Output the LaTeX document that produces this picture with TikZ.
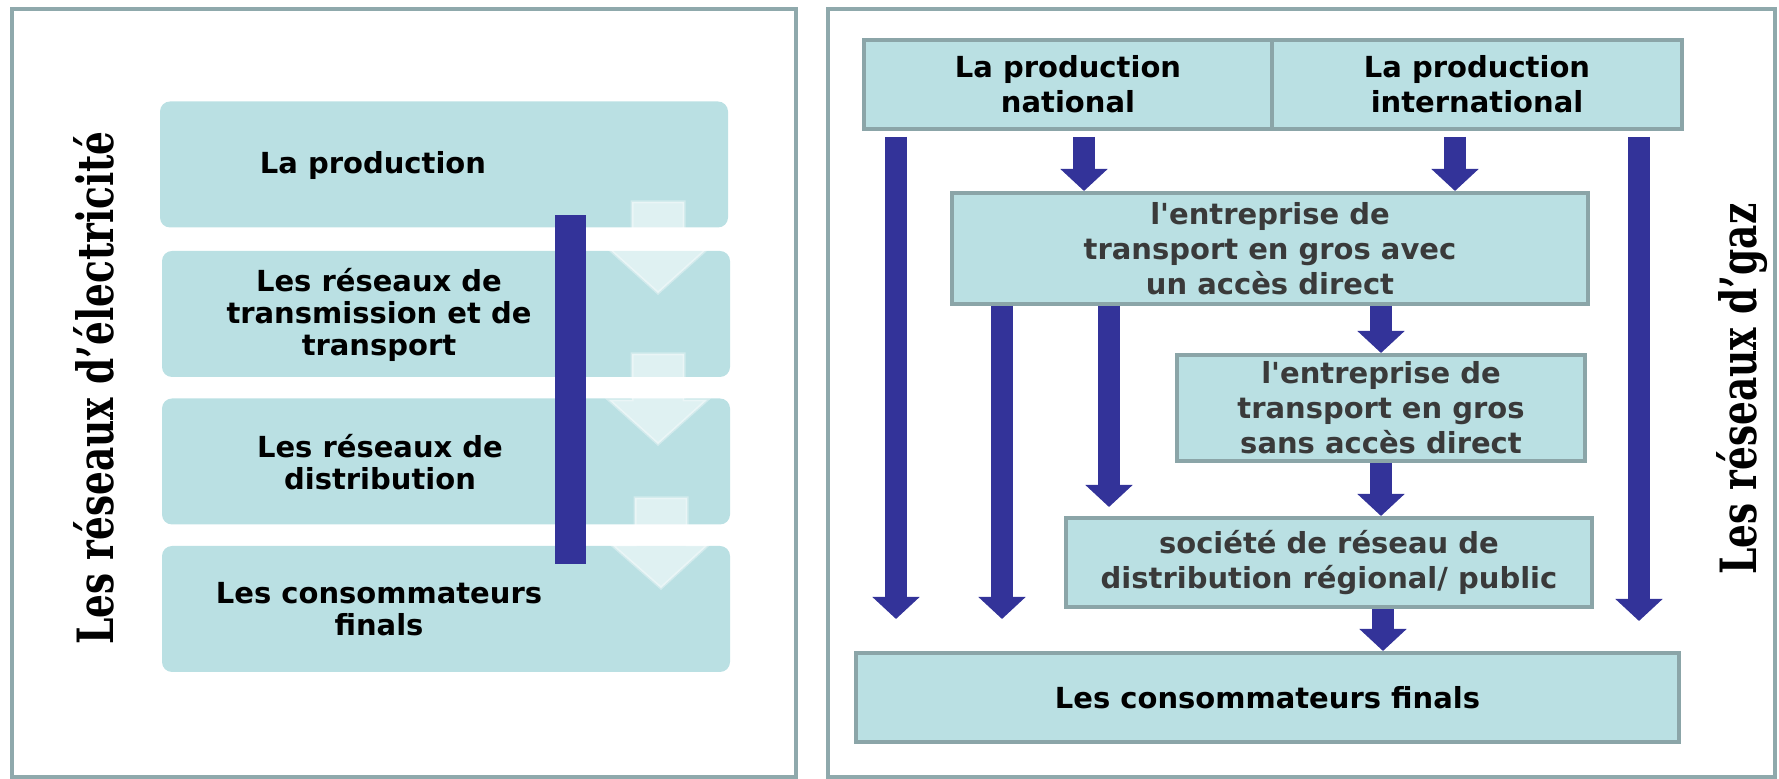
\documentclass[tikz,border=0pt]{standalone}
\usepackage{fontspec}
\setmainfont{DejaVu Sans}[Ligatures=TeXOff]
\newfontfamily\titlefont{DejaVu Serif}
\usetikzlibrary{arrows.meta,calc}
\definecolor{boxfill}{RGB}{186,224,227}
\definecolor{boxline}{RGB}{139,165,168}
\definecolor{panelline}{RGB}{143,169,172}
\definecolor{navy}{RGB}{51,51,153}
\definecolor{darktext}{RGB}{58,58,58}
\tikzset{
  panel/.style={draw=panelline,line width=2pt},
  lbox/.style={fill=boxfill,rounded corners=5pt,minimum width=284pt,minimum height=63pt,inner sep=0pt},
  ltext/.style={font=\bfseries\fontsize{14.5}{16}\selectfont,align=center,inner sep=0pt},
  rbox/.style={draw=boxline,fill=boxfill,line width=2pt,inner sep=0pt},
  rtext/.style={font=\bfseries\fontsize{14.5}{17.5}\selectfont,align=center},
  fat/.style={draw=navy,line width=11pt,-{Triangle[length=11pt,width=23pt]}},
  lightarrow/.style={fill=white,fill opacity=0.55,draw=white,draw opacity=0.35,line width=1.5pt},
  title/.style={font=\titlefont\bfseries\fontsize{25}{30}\selectfont,rotate=90,inner sep=0pt}
}
\begin{document}
\begin{tikzpicture}[x=0.5pt,y=-0.5pt]
\useasboundingbox (0,0) rectangle (1779,779);
% panels
\draw[panel] (12,9) rectangle (796,777);
\draw[panel] (828,9) rectangle (1775,777);
% ---------- left panel ----------
\node[title] (tl) at (94,388) {\scalebox{0.75}[1]{Les réseaux d’électricité}};
\node[lbox] (b1) at (444,164.5) {};
\node[lbox] (b2) at (446,314) {};
\node[lbox] (b3) at (446,461.5) {};
\node[lbox] (b4) at (446,609) {};
\node[ltext] (t1) at (373,166) {La production};
\node[ltext] (t2) at (379,315) {Les réseaux de\\transmission et de\\transport};
\node[ltext] (t3) at (380,462) {Les réseaux de\\distribution};
\node[ltext] (t4) at (379,609) {Les consommateurs\\finals};
\node[fill=navy,minimum width=15.5pt,minimum height=174.5pt,inner sep=0pt] (bar) at (570.5,389.5) {};
\draw[lightarrow] (632,202) -- (684,202) -- (684,249) -- (707,249) -- (658,293) -- (609,249) -- (632,249) -- cycle;
\draw[lightarrow] (632,354) -- (684,354) -- (684,400) -- (707,400) -- (658,444) -- (609,400) -- (632,400) -- cycle;
\draw[lightarrow] (635,498) -- (687,498) -- (687,545) -- (708,545) -- (661,588) -- (612,545) -- (635,545) -- cycle;
% ---------- right panel ----------
\node[title] (tr) at (1742,389) {\scalebox{0.75}[1]{Les réseaux d’gaz}};
\node[rbox,minimum width=204pt,minimum height=44.5pt] (nat) at (1068,84.5) {};
\node[rbox,minimum width=205pt,minimum height=44.5pt] (int) at (1477,84.5) {};
\node[rbox,minimum width=318pt,minimum height=55.5pt] (ent) at (1270,248.5) {};
\node[rbox,minimum width=204pt,minimum height=53pt] (sans) at (1381,408) {};
\node[rbox,minimum width=263pt,minimum height=44.5pt] (soc) at (1329,562.5) {};
\node[rbox,minimum width=411.5pt,minimum height=44.5pt] (cons) at (1267.5,697.5) {};
% free ends
\coordinate (s1) at (896,137);  \coordinate (e1) at (896,619);
\coordinate (s4) at (1639,137); \coordinate (e4) at (1639,621);
\coordinate (e5) at (1002,619);
\coordinate (e6) at (1109,507);
% arrows
\draw[fat] (s1) -- (e1);
\draw[fat] (s4) -- (e4);
\draw[fat] (1084,137) -- (1084,0 |- ent.north);
\draw[fat] (1455,137) -- (1455,0 |- ent.north);
\draw[fat] (1002,0 |- ent.south) -- (e5);
\draw[fat] (1109,0 |- ent.south) -- (e6);
\draw[fat] (1381,0 |- ent.south) -- (1381,0 |- sans.north);
\draw[fat] (1381,0 |- sans.south) -- (1381,0 |- soc.north);
\draw[fat] (1383,0 |- soc.south) -- (1383,0 |- cons.north);
% texts
\node[rtext] at (nat) {La production\\national};
\node[rtext] at (int) {La production\\international};
\node[rtext,text=darktext] at (ent) {l'entreprise de\\transport en gros avec\\un accès direct};
\node[rtext,text=darktext] at (sans) {l'entreprise de\\transport en gros\\sans accès direct};
\node[rtext,text=darktext] at (soc) {société de réseau de\\distribution régional/ public};
\node[rtext] at (cons) {Les consommateurs finals};
\end{tikzpicture}
\end{document}
